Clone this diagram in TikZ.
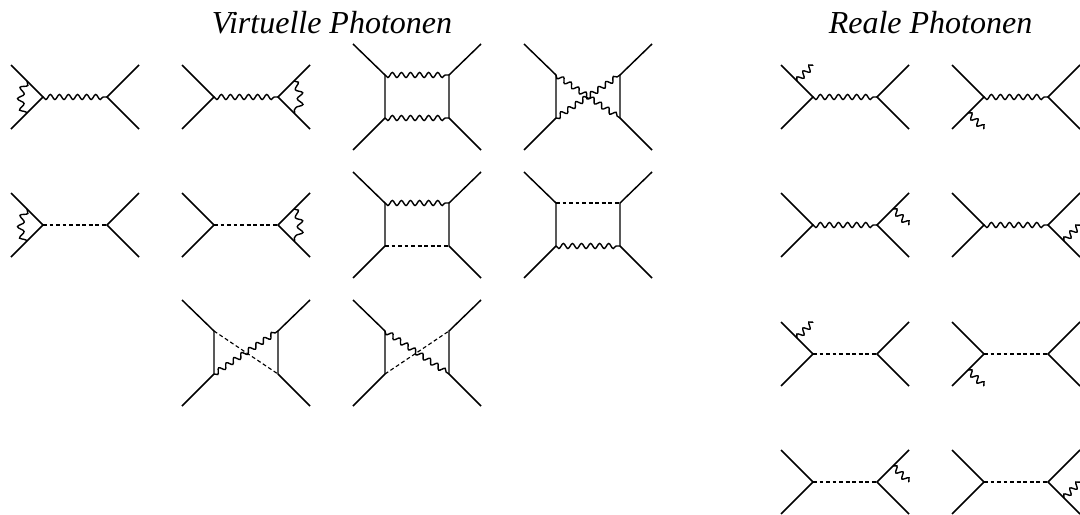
\documentclass[tikz,border=0pt]{standalone}
\usepackage{fontspec}
\setmainfont{Liberation Serif}
\usetikzlibrary{decorations.pathmorphing}

\tikzset{
    fermion/.style={line width=1.1pt},
    scalar/.style={line width=0.85pt, dash pattern=on 2.9pt off 2pt},
    photon/.style={line width=1.05pt, decorate, decoration={snake, segment length=6.8pt, amplitude=1.9pt, mirror}},
    loopphoton/.style={line width=1.05pt, decorate, decoration={snake, segment length=7.9pt, amplitude=2.3pt}},
    realphoton/.style={line width=1.05pt, decorate, decoration={snake, segment length=6.4pt, amplitude=2.2pt}},
    heading/.style={font=\fontsize{24}{28}\selectfont\itshape, anchor=base}
}

\newcommand{\schan}[4]{
    \coordinate (#1tl) at (#2,#3-32);
    \coordinate (#1bl) at (#2,#3+32);
    \coordinate (#1tr) at (#2+128,#3-32);
    \coordinate (#1br) at (#2+128,#3+32);
    \coordinate (#1vl) at (#2+32,#3);
    \coordinate (#1vr) at (#2+96,#3);
    \coordinate (#1mtl) at (#2+16,#3-16);
    \coordinate (#1mbl) at (#2+16,#3+16);
    \coordinate (#1mtr) at (#2+112,#3-16);
    \coordinate (#1mbr) at (#2+112,#3+16);
    \coordinate (#1etl) at (#2+32,#3-32);
    \coordinate (#1ebl) at (#2+32,#3+32);
    \coordinate (#1etr) at (#2+128,#3);
    \coordinate (#1ebr) at (#2+128,#3);
    \draw[fermion] (#1tl) -- (#1vl) -- (#1bl);
    \draw[fermion] (#1tr) -- (#1vr) -- (#1br);
    \draw[#4] (#1vl) -- (#1vr);
}

\newcommand{\boxdiag}[3]{
    \coordinate (#1tl) at (#2,#3-53);
    \coordinate (#1bl) at (#2,#3+53);
    \coordinate (#1tr) at (#2+128,#3-53);
    \coordinate (#1br) at (#2+128,#3+53);
    \coordinate (#1a) at (#2+32,#3-22);
    \coordinate (#1b) at (#2+32,#3+21);
    \coordinate (#1c) at (#2+96,#3-22);
    \coordinate (#1d) at (#2+96,#3+21);
    \draw[fermion] (#1tl) -- (#1a) -- (#1b) -- (#1bl);
    \draw[fermion] (#1tr) -- (#1c) -- (#1d) -- (#1br);
}

\begin{document}
\begin{tikzpicture}[x=0.75pt, y=-0.75pt]
    \useasboundingbox (0,0) rectangle (1080,514);

    \node[heading] (virtuell) at (332,33) {Virtuelle Photonen};
    \node[heading] (real) at (930.5,33) {Reale Photonen};

    \schan{va}{11}{97}{photon}
    \draw[loopphoton] (vamtl) to[bend right=32] (vambl);
    \schan{vb}{182}{97}{photon}
    \draw[loopphoton] (vbmtr) to[bend left=32] (vbmbr);
    \schan{vc}{11}{225}{scalar}
    \draw[loopphoton] (vcmtl) to[bend right=32] (vcmbl);
    \schan{vd}{182}{225}{scalar}
    \draw[loopphoton] (vdmtr) to[bend left=32] (vdmbr);

    \boxdiag{ba}{353}{97}
    \draw[photon] (baa) -- (bac);
    \draw[photon] (bab) -- (bad);
    \boxdiag{bb}{524}{97}
    \draw[photon] (bba) -- (bbd);
    \draw[photon] (bbb) -- (bbc);
    \boxdiag{bc}{353}{225}
    \draw[photon] (bca) -- (bcc);
    \draw[scalar] (bcb) -- (bcd);
    \boxdiag{bd}{524}{225}
    \draw[scalar] (bda) -- (bdc);
    \draw[photon] (bdb) -- (bdd);
    \boxdiag{be}{182}{353}
    \draw[scalar] (bea) -- (bed);
    \draw[photon] (beb) -- (bec);
    \boxdiag{bf}{353}{353}
    \draw[photon] (bfa) -- (bfd);
    \draw[scalar] (bfb) -- (bfc);

    \schan{ra}{781}{97}{photon}
    \draw[realphoton] (ramtl) -- (raetl);
    \schan{rb}{952}{97}{photon}
    \draw[realphoton] (rbmbl) -- (rbebl);
    \schan{rc}{781}{225}{photon}
    \draw[realphoton] (rcmtr) -- (rcetr);
    \schan{rd}{952}{225}{photon}
    \draw[realphoton] (rdmbr) -- (rdebr);
    \schan{re}{781}{354}{scalar}
    \draw[realphoton] (remtl) -- (reetl);
    \schan{rf}{952}{354}{scalar}
    \draw[realphoton] (rfmbl) -- (rfebl);
    \schan{rg}{781}{482}{scalar}
    \draw[realphoton] (rgmtr) -- (rgetr);
    \schan{rh}{952}{482}{scalar}
    \draw[realphoton] (rhmbr) -- (rhebr);
\end{tikzpicture}
\end{document}
